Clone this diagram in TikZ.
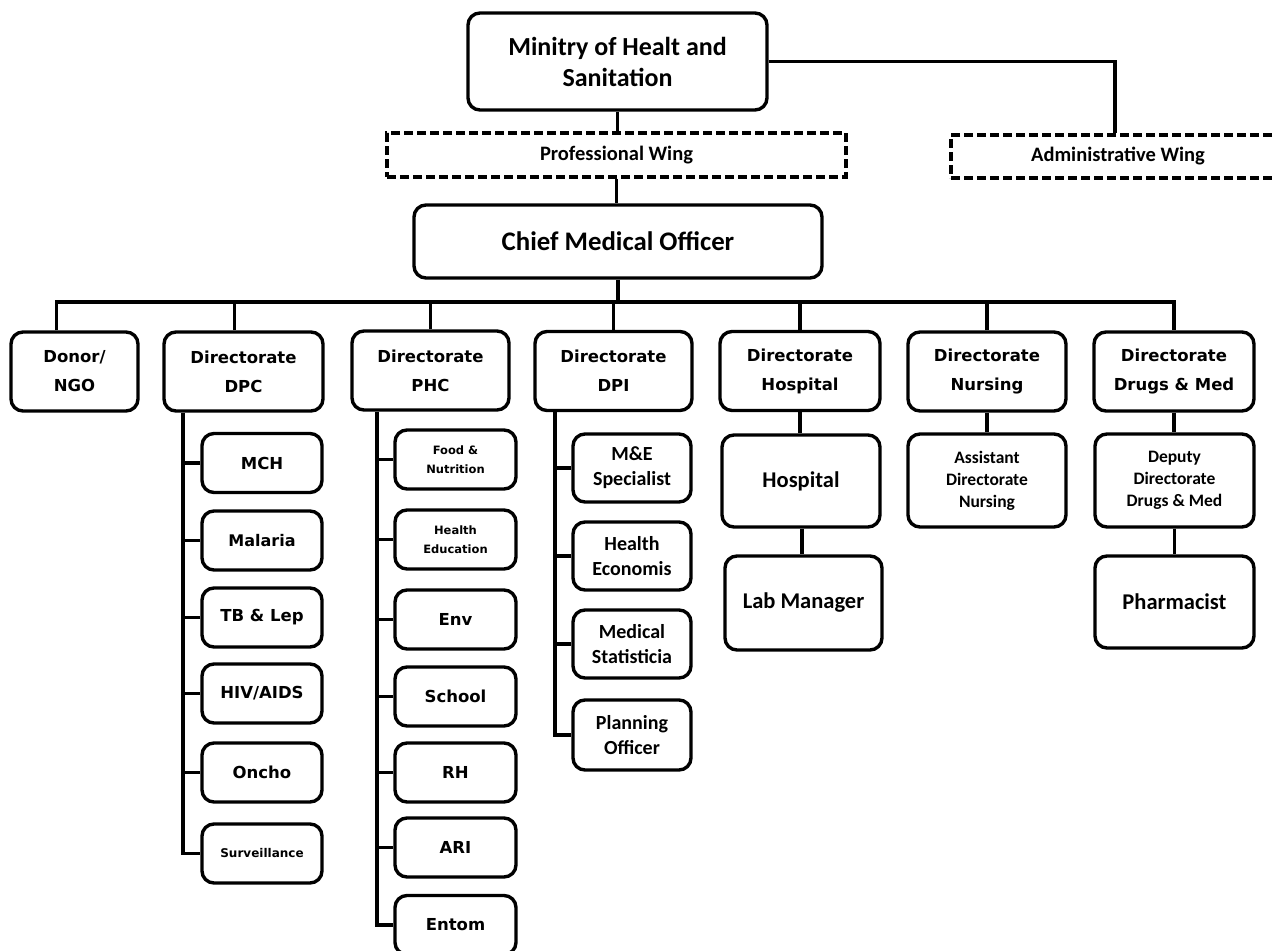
\documentclass[tikz,border=0pt]{standalone}
\usepackage{fontspec}
\setmainfont{Carlito}
\newfontfamily\verd{DejaVu Sans}
\usetikzlibrary{positioning}
% fonts: Carlito bold and DejaVu Sans bold, size and line skip in bp
\newcommand{\cfont}[2]{\fontsize{#1bp}{#2bp}\selectfont\bfseries}
\newcommand{\vfont}[2]{\verd\fontsize{#1bp}{#2bp}\selectfont\bfseries}
\tikzset{
  unit/.style={draw, line width=3.4bp, rounded corners=12bp, align=center, inner sep=1bp},
  wing/.style={draw, line width=3.4bp, dash pattern=on 9bp off 4bp, align=center, inner sep=1bp},
  link/.style={line width=3.4bp},
  dirbox/.style={unit, minimum height=79bp, font=\vfont{16.5}{29}},
  dpcbox/.style={unit, minimum width=120bp, minimum height=59bp},
  phcbox/.style={unit, minimum width=121bp, minimum height=59bp},
  dpibox/.style={unit, minimum width=118bp, minimum height=68bp, font=\cfont{20}{25}},
}
\begin{document}
\begin{tikzpicture}[x=1bp,y=-1bp]
    \useasboundingbox (0,0) rectangle (1273,951);
    \fill[white] (0,0) rectangle (1273,951);
    % top of the chart
    \node[unit, minimum width=299bp, minimum height=97bp, font=\cfont{26}{31}] (ministry) at (617.5,61.5) {Minitry of Healt and\\Sanitation};
    \node[wing, minimum width=459bp, minimum height=44bp, font=\cfont{20.5}{22}] (prof) at (616.5,155) {Professional Wing};
    \node[wing, minimum width=334bp, minimum height=43bp, font=\cfont{20.5}{22}] (admin) at (1118,156.5) {Administrative Wing};
    \node[unit, minimum width=408bp, minimum height=73bp, font=\cfont{26.8}{30}] (cmo) at (618,241.5) {Chief Medical Officer};
    % directorates
    \node[dirbox, minimum width=127bp] (donor) at (74.5,371.5) {Donor/\\NGO};
    \node[dirbox, minimum width=159bp] (dpc) at (243.5,371.5) {Directorate\\DPC};
    \node[dirbox, minimum width=157bp] (phc) at (430.5,370.5) {Directorate\\PHC};
    \node[dirbox, minimum width=157bp] (dpi) at (613.5,371) {Directorate\\DPI};
    \node[dirbox, minimum width=160bp] (hosp) at (800,371) {Directorate\\Hospital};
    \node[dirbox, minimum width=158bp] (nurs) at (987,371.5) {Directorate\\Nursing};
    \node[dirbox, minimum width=160bp] (drugs) at (1174,371.5) {Directorate\\Drugs \& Med};
    % DPC units
    \node[dpcbox, font=\vfont{16.5}{20}] (mch) at (262,463) {MCH};
    \node[dpcbox, font=\vfont{16}{20}] (malaria) at (262,540.5) {Malaria};
    \node[dpcbox, font=\vfont{16.5}{20}] (tb) at (262,617.5) {TB \& Lep};
    \node[dpcbox, font=\vfont{16.5}{20}] (hiv) at (262,693.5) {HIV/AIDS};
    \node[dpcbox, font=\vfont{16.5}{20}] (oncho) at (262,772.5) {Oncho};
    \node[dpcbox, font=\vfont{12}{15}] (surv) at (262,853.5) {Surveillance};
    % PHC units
    \node[phcbox, font=\vfont{11.5}{19}] (food) at (455.5,459.5) {Food \&\\Nutrition};
    \node[phcbox, font=\vfont{11.5}{19}] (hedu) at (455.5,539.5) {Health\\Education};
    \node[phcbox, font=\vfont{16.5}{20}] (env) at (455.5,619.5) {Env};
    \node[phcbox, font=\vfont{16.5}{20}] (school) at (455.5,696.5) {School};
    \node[phcbox, font=\vfont{16.5}{20}] (rh) at (455.5,772.5) {RH};
    \node[phcbox, font=\vfont{16.5}{20}] (ari) at (455.5,847.5) {ARI};
    \node[phcbox, font=\vfont{16.5}{20}] (entom) at (455.5,925) {Entom};
    % DPI units
    \node[dpibox] (me) at (632,468) {M\&E\\Specialist};
    \node[dpibox] (hecon) at (632,556) {Health\\Economis};
    \node[dpibox] (medstat) at (632,644) {Medical\\Statisticia};
    \node[dpibox, minimum height=70bp] (plan) at (632,735) {Planning\\Officer};
    % hospital, nursing, drugs
    \node[unit, minimum width=158bp, minimum height=92bp, font=\cfont{22.5}{24}] (hospital) at (801,481) {Hospital};
    \node[unit, minimum width=157bp, minimum height=94bp, font=\cfont{22.5}{24}] (lab) at (803.5,603) {Lab Manager};
    \node[unit, minimum width=158bp, minimum height=93bp, font=\cfont{17.5}{22}] (asst) at (987,480.5) {Assistant\\Directorate\\Nursing};
    \node[unit, minimum width=159bp, minimum height=93bp, font=\cfont{17.5}{22}] (deputy) at (1174.5,480.5) {Deputy\\Directorate\\Drugs \& Med};
    \node[unit, minimum width=159bp, minimum height=92bp, font=\cfont{22.5}{24}] (pharm) at (1174.5,602) {Pharmacist};
    % connectors
    \draw[link] (ministry.south) -- (ministry.south |- prof.north);
    \draw[link] (prof.south) -- (prof.south |- cmo.north);
    \draw[link] (ministry.east) -| ([xshift=-3bp]admin.north);
    \coordinate (bus) at (0,302);
    \draw[link] (cmo.south) -- (cmo.south |- bus);
    \draw[link] ([xshift=-18bp]donor.north) |- (drugs.north |- bus) -- (drugs.north);
    \draw[link] ([xshift=-9bp]dpc.north) -- ([xshift=-9bp]dpc.north |- bus);
    \foreach \d in {phc,dpi,hosp,nurs}
        \draw[link] (\d.north) -- (\d.north |- bus);
    \coordinate (dpcspine) at (183,0);
    \draw[link] (dpc.south -| dpcspine) |- (surv.west);
    \foreach \c in {mch,malaria,tb,hiv,oncho}
        \draw[link] (\c.west) -- (\c.west -| dpcspine);
    \coordinate (phcspine) at (377,0);
    \draw[link] (phc.south -| phcspine) |- (entom.west);
    \foreach \c in {food,hedu,env,school,rh,ari}
        \draw[link] (\c.west) -- (\c.west -| phcspine);
    \coordinate (dpispine) at (555,0);
    \draw[link] (dpi.south -| dpispine) |- (plan.west);
    \foreach \c in {me,hecon,medstat}
        \draw[link] (\c.west) -- (\c.west -| dpispine);
    \draw[link] (hosp.south) -- (hosp.south |- hospital.north);
    \draw[link] ([xshift=1bp]hospital.south) -- ([xshift=1bp]hospital.south |- lab.north);
    \draw[link] (nurs.south) -- (asst.north);
    \draw[link] (drugs.south) -- (drugs.south |- deputy.north);
    \draw[link] (deputy.south) -- (pharm.north);
\end{tikzpicture}
\end{document}
